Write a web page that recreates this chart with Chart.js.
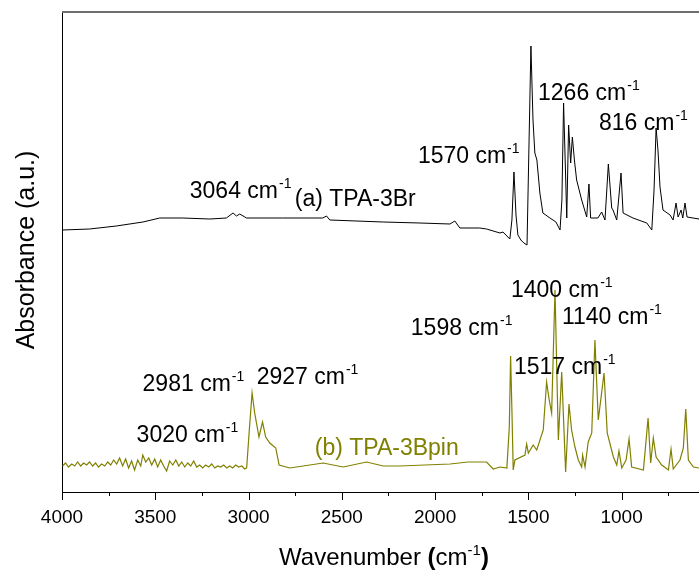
<!DOCTYPE html>
<html>
<head>
<meta charset="utf-8">
<script src="https://cdn.jsdelivr.net/npm/chart.js"></script>
<style>
  html, body { margin: 0; padding: 0; background: #fff; }
  #wrap { width: 699px; height: 572px; }
</style>
</head>
<body>
<div id="wrap"><canvas id="ftir"></canvas></div>
<script>
// (a) TPA-3Br spectrum
var waveA = [3998,3852,3709,3566,3476,3353,3208,3119,3083,3065,3047,3011,2817,2602,2582,2564,2278,2081,1920,1894,1867,1760,1724,1652,1636,1615,1599,1588,1577,1566,1556,1540,1524,1507,1497,1486,1475,1465,1454,1438,1422,1384,1352,1330,1320,1311,1301,1294,1284,1273,1264,1253,1241,1214,1187,1175,1166,1127,1107,1089,1071,1053,1046,1026,1003,992,939,865,838,826,815,805,794,778,740,724,708,697,681,672,660,649,617,585];
var absA = [2.62,2.63,2.66,2.70,2.74,2.74,2.73,2.74,2.79,2.76,2.78,2.74,2.74,2.74,2.76,2.72,2.70,2.69,2.68,2.71,2.64,2.64,2.63,2.59,2.60,2.56,2.53,2.72,3.20,2.77,2.57,2.52,2.49,2.47,3.42,4.46,3.72,3.39,3.32,2.99,2.79,2.74,2.70,2.62,2.92,3.89,3.22,2.74,3.67,3.29,3.55,3.32,3.12,2.92,2.75,3.08,2.74,2.74,2.80,2.72,3.28,2.84,2.82,2.72,3.19,2.79,2.74,2.69,2.62,3.02,3.64,3.42,3.05,2.82,2.77,2.72,2.89,2.75,2.82,2.74,2.89,2.75,2.74,2.73];

// (b) TPA-3Bpin spectrum
var waveB = [3997,3981,3965,3948,3932,3916,3900,3884,3868,3852,3836,3820,3804,3788,3771,3755,3739,3723,3707,3691,3675,3659,3643,3627,3611,3594,3578,3567,3551,3535,3519,3503,3487,3471,3455,3439,3423,3406,3390,3374,3358,3342,3326,3310,3294,3278,3262,3246,3230,3214,3197,3181,3165,3149,3133,3117,3101,3085,3069,3053,3036,3020,3010,2997,2981,2967,2944,2925,2908,2886,2854,2836,2779,2600,2493,2367,2278,2189,1920,1822,1724,1688,1652,1615,1602,1595,1588,1581,1572,1518,1509,1500,1474,1455,1420,1402,1388,1375,1357,1339,1321,1300,1282,1268,1250,1232,1214,1209,1196,1179,1160,1143,1125,1094,1077,1044,1026,1014,999,976,960,946,883,858,844,830,815,785,749,735,723,687,669,656,642,615,585];
var absB = [0.26,0.29,0.25,0.28,0.26,0.30,0.26,0.29,0.27,0.30,0.26,0.29,0.25,0.28,0.26,0.30,0.27,0.32,0.28,0.34,0.26,0.33,0.24,0.31,0.22,0.32,0.26,0.37,0.30,0.34,0.27,0.33,0.25,0.32,0.26,0.21,0.31,0.27,0.32,0.26,0.30,0.25,0.29,0.26,0.31,0.25,0.27,0.24,0.27,0.25,0.28,0.24,0.26,0.25,0.27,0.24,0.26,0.24,0.27,0.25,0.26,0.23,0.24,0.59,0.99,0.79,0.55,0.70,0.55,0.49,0.44,0.27,0.24,0.29,0.25,0.30,0.26,0.26,0.28,0.30,0.30,0.23,0.25,0.24,0.65,1.36,0.82,0.22,0.32,0.37,0.48,0.39,0.47,0.42,0.62,1.10,0.92,0.79,2.02,0.52,1.20,0.20,0.88,0.62,0.45,0.32,0.25,0.37,0.25,0.50,0.59,1.52,0.72,1.19,0.59,0.35,0.27,0.41,0.24,0.32,0.53,0.25,0.22,0.74,0.29,0.54,0.35,0.27,0.22,0.43,0.23,0.32,0.44,0.83,0.32,0.25,0.24];

// x axis
var xMax = 4000;
var xMin = 585;
var xStep = 250;
var xLabelStep = 500;

// peak / sample labels (anchored in data units)
var annText = ['3064','(a) TPA-3Br','1570','1266','816','1400','1598','1140','1517','2981','2927','3020','(b) TPA-3Bpin'];
var annX = [3315,2752,2092,1448,1121,1593,2130,1320,1577,3568,2956,3600,2645];
var annY = [2.94,2.86,3.29,3.92,3.62,1.95,1.57,1.68,1.18,1.01,1.08,0.50,0.37];

var FONT = '"Liberation Sans", Arial, sans-serif';
var OLIVE = '#808000';

function toPts(xs, ys) {
  var out = [];
  for (var i = 0; i < xs.length; i++) out.push({x: xs[i], y: ys[i]});
  return out;
}

// "base cm-1" with a raised -1
function drawUnit(ctx, x, y, base, size, color) {
  ctx.fillStyle = color;
  ctx.textAlign = 'left';
  ctx.textBaseline = 'alphabetic';
  ctx.font = size + 'px ' + FONT;
  var t = base + ' cm';
  ctx.fillText(t, x, y);
  var w = ctx.measureText(t).width;
  ctx.font = Math.round(size * 0.62) + 'px ' + FONT;
  ctx.fillText('-1', x + w + 1, y - size * 0.42);
}

var decor = {
  id: 'decor',
  afterDraw: function(chart) {
    var ctx = chart.ctx;
    var a = chart.chartArea;
    var sx = chart.scales.x, sy = chart.scales.y;
    ctx.save();

    // top frame line
    ctx.strokeStyle = '#6e6e6e';
    ctx.lineWidth = 2;
    ctx.beginPath();
    ctx.moveTo(a.left, a.top);
    ctx.lineTo(a.right, a.top);
    ctx.stroke();

    // x ticks, major and minor, pointing out
    ctx.strokeStyle = '#000';
    ctx.lineWidth = 1;
    for (var v = xMax; v >= xMin; v -= xStep) {
      var px = Math.round(sx.getPixelForValue(v)) + 0.5;
      var len = (v % xLabelStep === 0) ? 8 : 4;
      ctx.beginPath();
      ctx.moveTo(px, a.bottom);
      ctx.lineTo(px, a.bottom + len);
      ctx.stroke();
    }

    // annotations
    for (var i = 0; i < annText.length; i++) {
      var x = sx.getPixelForValue(annX[i]);
      var y = sy.getPixelForValue(annY[i]);
      if (annText[i].charAt(0) === '(') {
        ctx.fillStyle = annText[i].indexOf('Bpin') > 0 ? OLIVE : '#000';
        ctx.font = '23px ' + FONT;
        ctx.textAlign = 'left';
        ctx.textBaseline = 'alphabetic';
        ctx.fillText(annText[i], x, y);
      } else {
        drawUnit(ctx, x, y, annText[i], 23, '#000');
      }
    }

    // x title: Wavenumber (cm-1) with bold parens
    var size = 24;
    var parts = [
      {t: 'Wavenumber ', f: size + 'px ' + FONT, dy: 0},
      {t: '(', f: 'bold ' + size + 'px ' + FONT, dy: 0},
      {t: 'cm', f: size + 'px ' + FONT, dy: 0},
      {t: '-1', f: Math.round(size * 0.62) + 'px ' + FONT, dy: -size * 0.42},
      {t: ')', f: 'bold ' + size + 'px ' + FONT, dy: 0}
    ];
    var total = 0;
    parts.forEach(function(p) { ctx.font = p.f; p.w = ctx.measureText(p.t).width; total += p.w; });
    var cx = 384 - total / 2;
    ctx.fillStyle = '#000';
    ctx.textAlign = 'left';
    ctx.textBaseline = 'alphabetic';
    parts.forEach(function(p) { ctx.font = p.f; ctx.fillText(p.t, cx, 565 + p.dy); cx += p.w; });

    // y title
    ctx.translate(34, 250);
    ctx.rotate(-Math.PI / 2);
    ctx.font = '25px ' + FONT;
    ctx.textAlign = 'center';
    ctx.fillText('Absorbance (a.u.)', 0, 0);

    ctx.restore();
  }
};

new Chart(document.getElementById('ftir'), {
  type: 'line',
  data: {
    datasets: [
      {
        label: '(a) TPA-3Br',
        data: toPts(waveA, absA),
        borderColor: '#000',
        borderWidth: 1,
        pointRadius: 0,
        fill: false
      },
      {
        label: '(b) TPA-3Bpin',
        data: toPts(waveB, absB),
        borderColor: OLIVE,
        borderWidth: 1.2,
        pointRadius: 0,
        fill: false
      }
    ]
  },
  options: {
    responsive: true,
    maintainAspectRatio: false,
    animation: false,
    layout: { padding: { left: 62, right: 0, top: 12, bottom: 0 } },
    plugins: { legend: { display: false }, tooltip: { enabled: false } },
    scales: {
      x: {
        type: 'linear',
        reverse: true,
        min: xMin,
        max: xMax,
        border: { color: '#000', width: 1 },
        grid: { drawOnChartArea: false, drawTicks: false },
        ticks: {
          stepSize: xStep,
          autoSkip: false,
          maxRotation: 0,
          padding: 14,
          color: '#000',
          font: { family: FONT, size: 19 },
          callback: function(v) { return v % xLabelStep === 0 ? String(v) : ''; }
        },
        afterFit: function(s) { s.height = 80; s.paddingLeft = 0; s.paddingRight = 0; }
      },
      y: {
        min: 0,
        max: 4.8,
        border: { color: '#000', width: 1 },
        grid: { drawOnChartArea: false, drawTicks: false },
        ticks: { display: false },
        afterFit: function(s) { s.width = 0; }
      }
    }
  },
  plugins: [decor]
});
</script>
</body>
</html>
